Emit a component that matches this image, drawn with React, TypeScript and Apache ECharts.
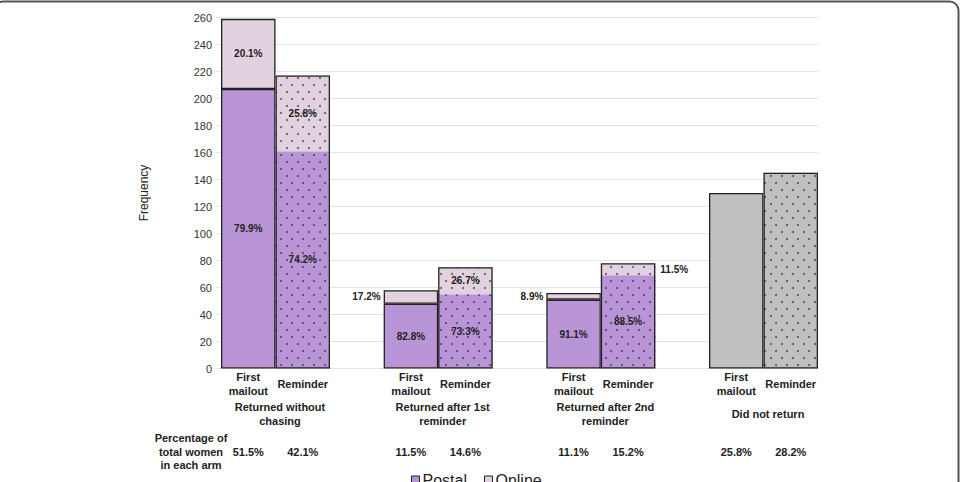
import React, { useEffect, useRef } from "react";
import * as echarts from "echarts";

const groups = ["Returned without\nchasing", "Returned after 1st\nreminder", "Returned after 2nd\nreminder", "Did not return"];
const postalFirst = [207, 48, 51, null];
const onlineFirst = [52, 10, 5, null];
const postalReminder = [161, 55, 69, null];
const onlineReminder = [56, 20, 9, null];
const noReturnFirst = [null, null, null, 130];
const noReturnReminder = [null, null, null, 145];
const pctPostalFirst = ["79.9%", "82.8%", "91.1%", ""];
const pctOnlineFirst = ["20.1%", "17.2%", "8.9%", ""];
const pctPostalReminder = ["74.2%", "73.3%", "88.5%", ""];
const pctOnlineReminder = ["25.8%", "26.7%", "11.5%", ""];
const armPctFirst = ["51.5%", "11.5%", "11.1%", "25.8%"];
const armPctReminder = ["42.1%", "14.6%", "15.2%", "28.2%"];
const yTicks = { min: 0, max: 260, interval: 20 };

const FONT = "'Liberation Sans', Arial, Helvetica, sans-serif";
const PURPLE = "#b995d8";
const PINK = "#e2d2e0";
const GRAY = "#c0c0c0";
const BORDER = "#222";

const decal = {
  symbol: "circle",
  symbolSize: 1,
  color: "rgba(45,30,55,0.7)",
  dashArrayX: [[1.4, 8.6], [0, 5, 1.4, 3.6]],
  dashArrayY: [1.4, 5],
};

export default function App() {
  const ref = useRef<HTMLDivElement>(null);
  useEffect(() => {
    if (!ref.current) return;
    const chart = echarts.init(ref.current, null, { renderer: "svg" });
    const zeros = groups.map(() => 0);
    const totalsReminder = groups.map((_, i) =>
      noReturnReminder[i] != null ? noReturnReminder[i] : (postalReminder[i] as number) + (onlineReminder[i] as number)
    );
    const onlineFirstPos = ["inside", "left", "left", "inside"];
    const onlineRemPos = ["inside", "inside", "right", "inside"];
    const pctLabel = {
      show: true,
      color: BORDER,
      fontFamily: FONT,
      fontSize: 10,
      fontWeight: "bold",
    };
    const base = { type: "bar", xAxisIndex: 1, yAxisIndex: 1, barWidth: 54.5, barGap: 0, silent: true };
    const option: any = {
      animation: false,
      backgroundColor: "#fff",
      grid: [
        { left: 216, right: 143, top: 17.5, bottom: 113.5 },
        { left: 194.17, right: 116.17, top: 17.5, bottom: 113.5 },
      ],
      xAxis: [
        { type: "category", gridIndex: 0, data: groups, show: false },
        {
          type: "category",
          gridIndex: 1,
          data: groups,
          axisLine: { show: false },
          axisTick: { show: false },
          axisLabel: {
            interval: 0,
            margin: 45.5,
            verticalAlign: "middle",
            lineHeight: 13.4,
            padding: [0, 0, 0, 9],
            fontFamily: FONT,
            fontSize: 11,
            fontWeight: "bold",
            color: BORDER,
          },
        },
        { type: "category", gridIndex: 1, data: groups, show: false },
      ],
      yAxis: [
        {
          type: "value",
          gridIndex: 0,
          ...yTicks,
          name: "Frequency",
          nameLocation: "middle",
          nameGap: 66,
          nameTextStyle: { fontFamily: FONT, fontSize: 12, color: BORDER },
          axisLine: { show: false },
          axisTick: { show: false },
          axisLabel: { margin: 4, fontFamily: FONT, fontSize: 11, color: "#333" },
          splitLine: { lineStyle: { color: "#e3e3e3", width: 1 } },
        },
        { type: "value", gridIndex: 1, ...yTicks, show: false, splitLine: { show: false } },
      ],
      legend: {
        top: 467,
        left: 406,
        itemWidth: 8,
        itemHeight: 8,
        itemGap: 17,
        textStyle: { fontFamily: FONT, fontSize: 16, color: BORDER, padding: [0, 0, 0, -2] },
        data: [
          { name: "Postal", icon: "rect", itemStyle: { color: PURPLE, borderColor: BORDER, borderWidth: 1, decal: "none" } },
          { name: "Online", icon: "rect", itemStyle: { color: PINK, borderColor: BORDER, borderWidth: 1, decal: "none" } },
        ],
      },
      graphic: [
        {
          type: "rect",
          shape: { x: -6, y: 1.5, width: 964.5, height: 520, r: 9 },
          style: { fill: "none", stroke: "#555", lineWidth: 2 },
          silent: true,
        },
        {
          type: "text",
          x: 191,
          y: 451.5,
          style: {
            text: "Percentage of\ntotal women\nin each arm",
            fontFamily: FONT,
            fontSize: 11,
            fontWeight: "bold",
            fill: BORDER,
            align: "center",
            verticalAlign: "middle",
            lineHeight: 13.6,
          },
        },
      ],
      series: [
        {
          ...base,
          name: "lblFirst",
          stack: "first",
          data: zeros,
          itemStyle: { color: "transparent", borderWidth: 0 },
          label: { show: true, position: "bottom", distance: 2, formatter: "First\nmailout", fontFamily: FONT, fontSize: 11, fontWeight: "bold", color: BORDER, lineHeight: 13.4 },
        },
        {
          ...base,
          name: "pctFirst",
          stack: "first",
          data: zeros,
          itemStyle: { color: "transparent", borderWidth: 0 },
          label: { show: true, position: "bottom", distance: 76.7, formatter: (p: any) => armPctFirst[p.dataIndex], fontFamily: FONT, fontSize: 11, fontWeight: "bold", color: BORDER, lineHeight: 13 },
        },
        {
          ...base,
          name: "Postal",
          stack: "first",
          data: postalFirst,
          itemStyle: { color: PURPLE, borderColor: BORDER, borderWidth: 1.3 },
          label: { ...pctLabel, position: "inside", formatter: (p: any) => pctPostalFirst[p.dataIndex] },
        },
        {
          ...base,
          name: "Did not return",
          stack: "first",
          data: noReturnFirst,
          itemStyle: { color: GRAY, borderColor: BORDER, borderWidth: 1.3 },
        },
        {
          ...base,
          name: "Online",
          stack: "first",
          data: onlineFirst.map((v, i) => ({ value: v, label: { position: onlineFirstPos[i], distance: 3 } })),
          itemStyle: { color: PINK, borderColor: BORDER, borderWidth: 1.3 },
          label: { ...pctLabel, formatter: (p: any) => pctOnlineFirst[p.dataIndex] },
        },
        {
          ...base,
          name: "lblRem",
          stack: "rem",
          data: zeros,
          itemStyle: { color: "transparent", borderWidth: 0 },
          label: { show: true, position: "bottom", distance: 9, formatter: "Reminder", fontFamily: FONT, fontSize: 11, fontWeight: "bold", color: BORDER, lineHeight: 13.4 },
        },
        {
          ...base,
          name: "pctRem",
          stack: "rem",
          data: zeros,
          itemStyle: { color: "transparent", borderWidth: 0 },
          label: { show: true, position: "bottom", distance: 76.7, formatter: (p: any) => armPctReminder[p.dataIndex], fontFamily: FONT, fontSize: 11, fontWeight: "bold", color: BORDER, lineHeight: 13 },
        },
        {
          ...base,
          name: "Postal",
          stack: "rem",
          data: postalReminder,
          itemStyle: { color: PURPLE, borderWidth: 0, decal },
          label: { ...pctLabel, position: "inside", formatter: (p: any) => pctPostalReminder[p.dataIndex] },
        },
        {
          ...base,
          name: "Did not return ",
          stack: "rem",
          data: noReturnReminder,
          itemStyle: { color: GRAY, borderWidth: 0, decal },
        },
        {
          ...base,
          name: "Online",
          stack: "rem",
          data: onlineReminder.map((v, i) => ({ value: v, label: { position: onlineRemPos[i], distance: 5 } })),
          itemStyle: { color: PINK, borderWidth: 0, decal },
          label: { ...pctLabel, formatter: (p: any) => pctOnlineReminder[p.dataIndex] },
        },
        {
          ...base,
          xAxisIndex: 2,
          name: "outlineFirst",
          stack: "o1",
          data: groups.map(() => null),
          itemStyle: { color: "transparent" },
        },
        {
          ...base,
          xAxisIndex: 2,
          name: "outlineRem",
          stack: "o2",
          data: totalsReminder,
          z: 3,
          itemStyle: { color: "transparent", borderColor: BORDER, borderWidth: 1.3 },
        },
      ],
    };
    chart.setOption(option);
    return () => chart.dispose();
  }, []);
  return (
    <div
      ref={ref}
      style={{ position: "fixed", left: 0, top: 0, width: 961, height: 482, background: "#fff" }}
    />
  );
}
